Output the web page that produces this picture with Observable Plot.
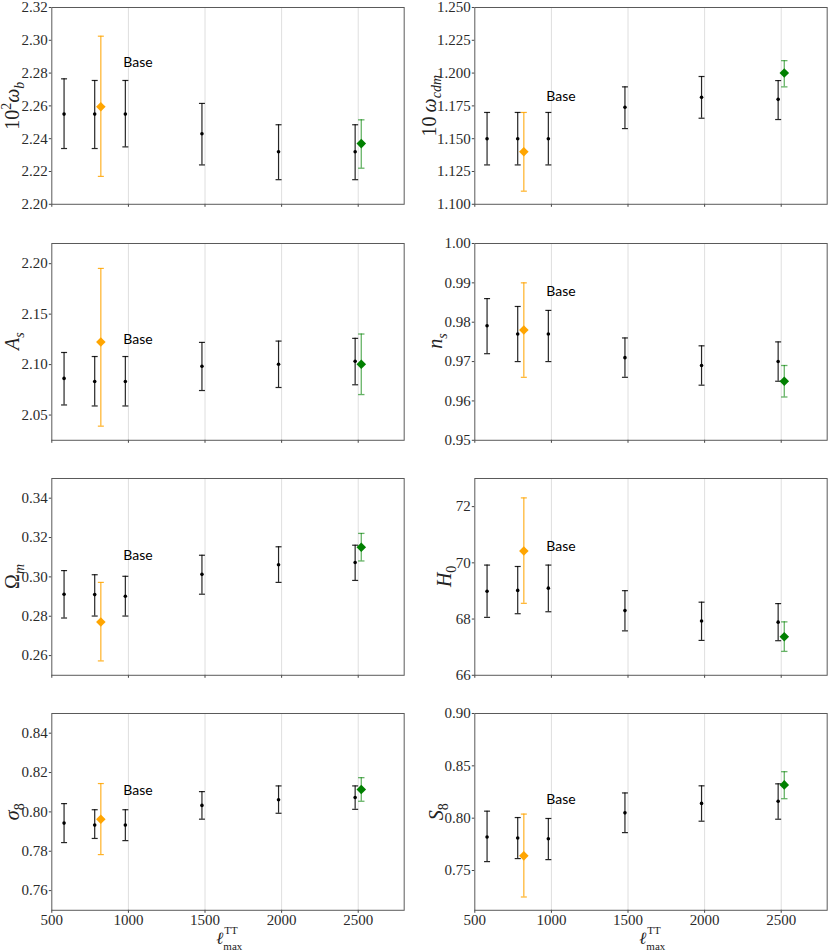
<!DOCTYPE html>
<html><head><meta charset="utf-8">
<script src="https://cdn.jsdelivr.net/npm/d3@7"></script>
<script src="https://cdn.jsdelivr.net/npm/@observablehq/plot@0.6"></script>
<style>
body{margin:0;background:#fff;}
#fig{position:relative;width:830px;height:951px;overflow:hidden;background:#fff;}
#fig svg{position:absolute;}
</style></head><body><div id="fig"></div>
<script>
// ---------- data ----------
const xBlack = [580, 780, 980, 1480, 1980, 2480];
const xOrange = 820;
const xGreen = 2520;
const xTicks = [500, 1000, 1500, 2000, 2500];
const xGridTicks = [1000, 1500, 2000, 2500];
const baseLabelX = 967;

const omegaB_mean = [2.255, 2.255, 2.255, 2.243, 2.232, 2.232];
const omegaB_lo   = [2.234, 2.234, 2.235, 2.224, 2.215, 2.215];
const omegaB_hi   = [2.2765, 2.2755, 2.2755, 2.2615, 2.2485, 2.2485];
const omegaB_orange = [2.2595, 2.217, 2.3025];
const omegaB_green  = [2.237, 2.222, 2.2515];
const omegaB_ticks  = [2.20, 2.22, 2.24, 2.26, 2.28, 2.30, 2.32];
const omegaB_base   = 2.2865;

const omegaCdm_mean = [1.150, 1.150, 1.150, 1.174, 1.1815, 1.180];
const omegaCdm_lo   = [1.130, 1.130, 1.130, 1.1577, 1.1656, 1.1646];
const omegaCdm_hi   = [1.170, 1.170, 1.170, 1.1895, 1.1974, 1.1943];
const omegaCdm_orange = [1.140, 1.110, 1.170];
const omegaCdm_green  = [1.200, 1.1895, 1.2095];
const omegaCdm_ticks  = [1.100, 1.125, 1.150, 1.175, 1.200, 1.225, 1.250];
const omegaCdm_base   = 1.1821;

const As_mean = [2.0863, 2.0833, 2.0833, 2.0983, 2.1003, 2.1033];
const As_lo   = [2.060, 2.059, 2.059, 2.0743, 2.0773, 2.080];
const As_hi   = [2.112, 2.108, 2.108, 2.122, 2.1233, 2.126];
const As_orange = [2.1223, 2.039, 2.1953];
const As_green  = [2.1003, 2.0703, 2.1303];
const As_ticks  = [2.05, 2.10, 2.15, 2.20];
const As_base   = 2.1253;

const ns_mean = [0.9791, 0.977, 0.977, 0.971, 0.969, 0.970];
const ns_lo   = [0.972, 0.970, 0.970, 0.966, 0.964, 0.965];
const ns_hi   = [0.986, 0.984, 0.983, 0.976, 0.974, 0.975];
const ns_orange = [0.978, 0.966, 0.990];
const ns_green  = [0.965, 0.961, 0.969];
const ns_ticks  = [0.95, 0.96, 0.97, 0.98, 0.99, 1.00];
const ns_base   = 0.9877;

const Om_mean = [0.2912, 0.291, 0.2902, 0.3013, 0.3062, 0.3073];
const Om_lo   = [0.2791, 0.2801, 0.2801, 0.2912, 0.2972, 0.2982];
const Om_hi   = [0.3032, 0.3011, 0.3003, 0.311, 0.3153, 0.3161];
const Om_orange = [0.2771, 0.2573, 0.2972];
const Om_green  = [0.3151, 0.3081, 0.3221];
const Om_ticks  = [0.26, 0.28, 0.30, 0.32, 0.34];
const Om_base   = 0.3107;

const H0_mean = [68.99, 69.02, 69.10, 68.30, 67.93, 67.89];
const H0_lo   = [68.06, 68.19, 68.26, 67.58, 67.24, 67.23];
const H0_hi   = [69.92, 69.87, 69.92, 69.01, 68.60, 68.55];
const H0_orange = [70.42, 68.56, 72.31];
const H0_green  = [67.37, 66.85, 67.90];
const H0_ticks  = [66, 68, 70, 72];
const H0_base   = 70.57;

const sig8_mean = [0.7943, 0.7933, 0.7933, 0.8033, 0.8062, 0.8073];
const sig8_lo   = [0.7844, 0.7865, 0.7854, 0.7963, 0.7993, 0.8013];
const sig8_hi   = [0.8042, 0.8011, 0.8011, 0.8103, 0.8132, 0.8132];
const sig8_orange = [0.7963, 0.7783, 0.8144];
const sig8_green  = [0.8114, 0.8054, 0.8174];
const sig8_ticks  = [0.76, 0.78, 0.80, 0.82, 0.84];
const sig8_base   = 0.8107;

const S8_mean = [0.782, 0.781, 0.7804, 0.8051, 0.8141, 0.8161];
const S8_lo   = [0.7585, 0.7614, 0.7604, 0.7862, 0.7971, 0.7990];
const S8_hi   = [0.8067, 0.8006, 0.7997, 0.8241, 0.8309, 0.8328];
const S8_orange = [0.764, 0.7247, 0.8039];
const S8_green  = [0.8318, 0.8186, 0.8444];
const S8_ticks  = [0.75, 0.80, 0.85, 0.90];
const S8_base   = 0.8183;

// ---------- panels ----------
const panels = [
  {mean: omegaB_mean, lo: omegaB_lo, hi: omegaB_hi, orange: omegaB_orange, green: omegaB_green, ticks: omegaB_ticks, base: omegaB_base,
   domain: [2.20, 2.32], fmt: ".2f", label: [["10"], ["2", "sup"], ["ω", "it"], ["b", "sub-it"]], labelX: 19},
  {mean: omegaCdm_mean, lo: omegaCdm_lo, hi: omegaCdm_hi, orange: omegaCdm_orange, green: omegaCdm_green, ticks: omegaCdm_ticks, base: omegaCdm_base,
   domain: [1.100, 1.250], fmt: ".3f", label: [["10\u2009"], ["ω", "it"], ["cdm", "sub-it"]], labelX: 21},
  {mean: As_mean, lo: As_lo, hi: As_hi, orange: As_orange, green: As_green, ticks: As_ticks, base: As_base,
   domain: [2.025, 2.22], fmt: ".2f", label: [["A", "it"], ["s", "sub-it"]], labelX: 19},
  {mean: ns_mean, lo: ns_lo, hi: ns_hi, orange: ns_orange, green: ns_green, ticks: ns_ticks, base: ns_base,
   domain: [0.95, 1.00], fmt: ".2f", label: [["n", "it"], ["s", "sub-it"]], labelX: 27},
  {mean: Om_mean, lo: Om_lo, hi: Om_hi, orange: Om_orange, green: Om_green, ticks: Om_ticks, base: Om_base,
   domain: [0.25, 0.35], fmt: ".2f", label: [["Ω"], ["m", "sub-it"]], labelX: 19},
  {mean: H0_mean, lo: H0_lo, hi: H0_hi, orange: H0_orange, green: H0_green, ticks: H0_ticks, base: H0_base,
   domain: [66, 73], fmt: "d", label: [["H", "it"], ["0", "sub"]], labelX: 36},
  {mean: sig8_mean, lo: sig8_lo, hi: sig8_hi, orange: sig8_orange, green: sig8_green, ticks: sig8_ticks, base: sig8_base,
   domain: [0.75, 0.85], fmt: ".2f", label: [["σ", "it"], ["8", "sub"]], labelX: 19},
  {mean: S8_mean, lo: S8_lo, hi: S8_hi, orange: S8_orange, green: S8_green, ticks: S8_ticks, base: S8_base,
   domain: [0.712, 0.90], fmt: ".2f", label: [["S", "it"], ["8", "sub"]], labelX: 28}
];

// ---------- layout ----------
const frameLeft = [51.3, 474.3];
const frameWidth = 352.4;
const frameTop = [7.3, 242.7, 478, 713.3];
const frameHeight = 196.8;
const serif = "'Liberation Serif', 'DejaVu Serif', serif";

const capSymbol = {
  draw(context, size) {
    const w = Math.sqrt(size / Math.PI);
    context.moveTo(-w, 0);
    context.lineTo(w, 0);
  }
};

const fig = document.getElementById("fig");

panels.forEach((p, i) => {
  const col = i % 2, row = Math.floor(i / 2);
  const svgLeft = col * 415;
  const mTop = 7, mRight = 3, mLeft = frameLeft[col] - svgLeft;
  const mBottom = row === 3 ? 30 : 6;
  const black = xBlack.map((x, k) => ({x, y: p.mean[k], lo: p.lo[k], hi: p.hi[k]}));
  const org = [{x: xOrange, y: p.orange[0], lo: p.orange[1], hi: p.orange[2]}];
  const grn = [{x: xGreen, y: p.green[0], lo: p.green[1], hi: p.green[2]}];
  const fmt = d3.format(p.fmt);

  const chart = Plot.plot({
    width: mLeft + frameWidth + mRight,
    height: mTop + frameHeight + mBottom,
    marginLeft: mLeft, marginRight: mRight, marginTop: mTop, marginBottom: mBottom,
    style: {fontFamily: serif, fontSize: "15px", color: "#2a2a2a", background: "transparent", overflow: "visible"},
    x: {domain: [500, 2800]},
    y: {domain: p.domain},
    marks: [
      Plot.gridX(xGridTicks, {stroke: "#dadada", strokeOpacity: 1, strokeWidth: 0.9}),
      Plot.axisY(p.ticks, {tickSize: 2.5, tickPadding: 1.5, tickFormat: fmt, label: null, stroke: "#444"}),
      Plot.axisX(xTicks, {tickSize: 3, tickPadding: 1.5, tickFormat: row === 3 ? (d => String(d)) : (() => ""), label: null, stroke: "#444"}),
      // black points
      Plot.ruleX(black, {x: "x", y1: "lo", y2: "hi", stroke: "#000", strokeOpacity: 0.85, strokeWidth: 1.2}),
      Plot.dot(black, {x: "x", y: "lo", symbol: capSymbol, r: 3, stroke: "#000", strokeOpacity: 0.85, strokeWidth: 1.2, fill: "none"}),
      Plot.dot(black, {x: "x", y: "hi", symbol: capSymbol, r: 3, stroke: "#000", strokeOpacity: 0.85, strokeWidth: 1.2, fill: "none"}),
      Plot.dot(black, {x: "x", y: "y", r: 1.8, fill: "#000", stroke: "none"}),
      // orange
      Plot.ruleX(org, {x: "x", y1: "lo", y2: "hi", stroke: "#FFA500", strokeOpacity: 0.85, strokeWidth: 1.2}),
      Plot.dot(org, {x: "x", y: "lo", symbol: capSymbol, r: 3, stroke: "#FFA500", strokeOpacity: 0.85, strokeWidth: 1.2, fill: "none"}),
      Plot.dot(org, {x: "x", y: "hi", symbol: capSymbol, r: 3, stroke: "#FFA500", strokeOpacity: 0.85, strokeWidth: 1.2, fill: "none"}),
      Plot.dot(org, {x: "x", y: "y", symbol: "diamond2", r: 4.3, fill: "#FFA500", stroke: "none"}),
      // green
      Plot.ruleX(grn, {x: "x", y1: "lo", y2: "hi", stroke: "#008000", strokeOpacity: 0.6, strokeWidth: 1.3}),
      Plot.dot(grn, {x: "x", y: "lo", symbol: capSymbol, r: 3.2, stroke: "#008000", strokeOpacity: 0.6, strokeWidth: 1.3, fill: "none"}),
      Plot.dot(grn, {x: "x", y: "hi", symbol: capSymbol, r: 3.2, stroke: "#008000", strokeOpacity: 0.6, strokeWidth: 1.3, fill: "none"}),
      Plot.dot(grn, {x: "x", y: "y", symbol: "diamond2", r: 4.3, fill: "#008000", stroke: "none"}),
      // Base label
      Plot.text([{x: baseLabelX, y: p.base}], {x: "x", y: "y", text: () => "Base", textAnchor: "start",
        fontFamily: "Lato, 'DejaVu Sans', sans-serif", fontSize: 14, fill: "#000"}),
      Plot.frame({stroke: "#5a5a5a", strokeWidth: 1})
    ]
  });
  chart.style.left = svgLeft + "px";
  chart.style.top = (frameTop[row] - mTop) + "px";
  fig.appendChild(chart);
});

// ---------- axis titles (overlay) ----------
const overlay = d3.select(fig).append("svg")
  .attr("width", 830).attr("height", 951)
  .style("left", "0px").style("top", "0px").style("pointer-events", "none");

function addMath(textSel, parts, baseSize) {
  let cur = 0;
  parts.forEach(([t, kind]) => {
    kind = kind || "";
    let target = 0, size = baseSize, italic = false;
    if (kind.startsWith("sup")) { target = -0.4 * baseSize; size = 0.7 * baseSize; }
    if (kind.startsWith("sub")) { target = 0.25 * baseSize; size = 0.7 * baseSize; }
    if (kind.includes("it")) italic = true;
    textSel.append("tspan")
      .attr("dy", target - cur)
      .attr("font-size", size)
      .attr("font-style", italic ? "italic" : "normal")
      .text(t);
    cur = target;
  });
}

panels.forEach((p, i) => {
  const col = i % 2, row = Math.floor(i / 2);
  const cx = col * 415 + p.labelX;
  const cy = frameTop[row] + frameHeight / 2;
  const t = overlay.append("text")
    .attr("transform", `translate(${cx},${cy}) rotate(-90)`)
    .attr("text-anchor", "middle")
    .attr("font-family", serif)
    .attr("font-size", 20)
    .attr("fill", "#222");
  addMath(t, p.label, 20);
});

// x label: ℓ^{TT}_{max}
[0, 1].forEach(col => {
  const cx = frameLeft[col] + frameWidth / 2;
  const g = overlay.append("g");
  const ell = g.append("text").attr("x", 0).attr("y", 944)
    .attr("font-family", serif).attr("font-size", 17).attr("font-style", "italic").attr("fill", "#222").text("ℓ");
  const ew = ell.node().getComputedTextLength();
  g.append("text").attr("x", ew + 1).attr("y", 934)
    .attr("font-family", serif).attr("font-size", 11).attr("fill", "#222").text("TT");
  g.append("text").attr("x", ew).attr("y", 949.5)
    .attr("font-family", serif).attr("font-size", 11).attr("fill", "#222").text("max");
  const bb = g.node().getBBox();
  g.attr("transform", `translate(${cx - bb.width / 2 + 2},0)`);
});
</script>
</body></html>
